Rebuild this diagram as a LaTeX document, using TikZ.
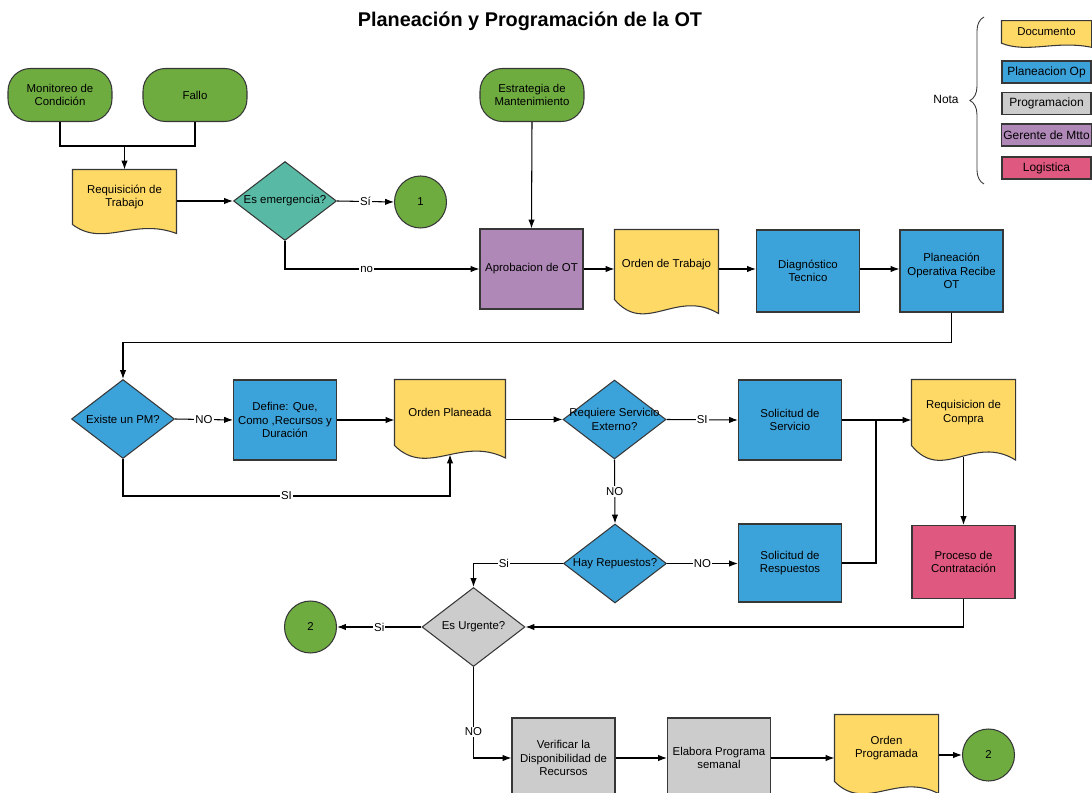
\documentclass[tikz,border=0pt]{standalone}
\usepackage{fontspec}
\setmainfont{Liberation Sans}
\usetikzlibrary{shapes.geometric,arrows.meta,calc,backgrounds,decorations.pathreplacing}

\definecolor{termgreen}{RGB}{110,172,64}
\definecolor{docyellow}{RGB}{255,217,102}
\definecolor{opblue}{RGB}{60,162,218}
\definecolor{proggray}{RGB}{204,204,204}
\definecolor{mgrpurple}{RGB}{176,136,184}
\definecolor{logpink}{RGB}{222,88,128}
\definecolor{emerteal}{RGB}{88,186,164}
\definecolor{edge}{RGB}{55,55,55}

\tikzset{
  base/.style={draw=edge, line width=0.6pt, font=\fontsize{6.5}{7.6}\selectfont, align=center, inner sep=1pt},
  term/.style={base, fill=termgreen, rounded corners=0.45cm, minimum width=2.08cm, minimum height=1.06cm},
  proc/.style={base, rectangle, minimum width=2.06cm, minimum height=1.62cm},
  doc/.style={base, draw=none, minimum width=2.06cm},
  dec/.style={base, diamond, aspect=1.3, minimum width=2.06cm, minimum height=1.58cm, inner sep=0pt},
  conn/.style={base, circle, fill=termgreen, minimum size=1.04cm},
  lbl/.style={font=\fontsize{6.5}{7.6}\selectfont, fill=white, inner sep=0.6pt},
  wire/.style={draw=black, line width=0.6pt},
  arr/.style={wire, -{Latex[length=5pt,width=3.6pt]}},
  docfill/.style={draw=edge, line width=0.6pt, fill=docyellow},
  legbox/.style={base, minimum width=1.78cm, minimum height=0.44cm, font=\fontsize{6.8}{8}\selectfont},
}

% document outline: node, width (px), wave depth (px)
\newcommand{\docwave}[3]{%
  \filldraw[docfill] (#1.south west) -- (#1.north west) -- (#1.north east) -- ($(#1.south east)+(0,#3)$)
    .. controls ($(#1.south west)+(0.6*#2,-0.8*#3)$) and ($(#1.south west)+(0.3*#2,2.6*#3)$) .. (#1.south west) -- cycle;}

\begin{document}
\begin{tikzpicture}[x=0.02cm, y=-0.02cm]
  \useasboundingbox (0,0) rectangle (1092,793);

  \node[font=\fontsize{11.3}{13.5}\selectfont\bfseries] (title) at (530,21) {Planeación y Programación de la OT};

  % legend
  \node[legbox, doc, minimum width=1.78cm, minimum height=0.43cm] (legdoc) at (1046.5,32) {Documento};
  \node[legbox, fill=opblue] (legop) at (1046.5,72) {Planeacion Op};
  \node[legbox, fill=proggray] (legprog) at (1046.5,103.5) {Programacion};
  \node[legbox, fill=mgrpurple] (legmgr) at (1046.5,135) {Gerente de Mtto};
  \node[legbox, fill=logpink] (leglog) at (1046.5,168) {Logistica};
  \node[font=\fontsize{6.8}{8}\selectfont] (nota) at (946,99) {Nota};
  \draw[edge, line width=0.5pt, decorate, decoration={brace, amplitude=8pt}] (984,184) -- (984,17);

  % row 1
  \node[term] (mon) at (60,95) {Monitoreo de\\Condición};
  \node[term] (fallo) at (195,95) {Fallo};
  \node[term] (est) at (532,95) {Estrategia de\\Mantenimiento};
  \node[doc, minimum height=1.08cm] (req) at (124.5,197) {Requisición de\\Trabajo};
  \node[dec, fill=emerteal] (emer) at (285,201) {Es emergencia?};
  \node[conn] (c1) at (420.5,202) {1};

  % row 2
  \node[proc, fill=mgrpurple, minimum height=1.6cm] (apr) at (531.5,269) {Aprobacion de OT};
  \node[doc, minimum height=1.38cm] (ot) at (666.5,264.5) {Orden de Trabajo};
  \node[proc, fill=opblue, minimum height=1.64cm] (diag) at (808,271) {Diagnóstico\\Tecnico};
  \node[proc, fill=opblue, minimum height=1.64cm] (plan) at (951.5,271) {Planeación\\Operativa Recibe\\OT};

  % row 3
  \node[dec, fill=opblue] (exist) at (123,419) {Existe un PM?};
  \node[proc, fill=opblue, minimum height=1.6cm] (define) at (285,420) {Define: Que,\\Como ,Recursos y\\Duración};
  \node[doc, minimum width=2.2cm, minimum height=1.3cm] (op) at (450,412.5) {Orden Planeada};
  \node[dec, fill=opblue, inner xsep=-7.5pt] (reqs) at (614.5,419.5) {Requiere Servicio\\Externo?};
  \node[proc, fill=opblue, minimum height=1.6cm] (solserv) at (790,420) {Solicitud de\\Servicio};
  \node[doc, minimum height=1.3cm] (rcomp) at (963.5,412.5) {Requisicion de\\Compra};

  % row 4
  \node[dec, fill=opblue] (hay) at (615,563.5) {Hay Repuestos?};
  \node[proc, fill=opblue, minimum height=1.56cm] (solresp) at (790,563) {Solicitud de\\Respuestos};
  \node[proc, fill=logpink, minimum height=1.46cm] (contr) at (963.5,562) {Proceso de\\Contratación};

  % row 5
  \node[dec, fill=proggray] (urg) at (473.5,627) {Es Urgente?};
  \node[conn] (c2) at (310.5,627) {2};
  \node[proc, fill=proggray, minimum height=1.6cm] (verif) at (563.5,758) {Verificar la\\Disponibilidad de\\Recursos};
  \node[proc, fill=proggray, minimum height=1.6cm] (elab) at (719,758) {Elabora Programa\\semanal};
  \node[doc, minimum height=1.32cm] (oprog) at (886.5,748) {Orden\\Programada};
  \node[conn] (c2b) at (988.5,755) {2};

  \begin{scope}[on background layer]
    \docwave{legdoc}{89}{4}
    \docwave{req}{103}{9}
    \docwave{ot}{103}{14}
    \docwave{op}{110}{12.5}
    \docwave{rcomp}{103}{14.5}
    \docwave{oprog}{103}{12}
  \end{scope}

  % connectors
  \draw[wire] (mon.south) -- ++(0,24) -| (fallo.south);
  \coordinate (jm) at (124.5,146);
  \draw[arr] (jm) -- (req.north);
  \draw[arr] (req.east |- emer) -- (emer.west);
  \draw[arr] (emer.east) -- node[lbl]{Sí} (c1.west);
  \draw[arr] (emer.south) |- node[lbl, pos=0.71]{no} (apr.west);
  \draw[arr] (est.south) -- (apr.north);
  \draw[arr] (apr.east) -- (apr.east -| ot.west);
  \draw[arr] (ot.east |- apr) -- (apr -| diag.west);
  \draw[arr] (diag.east |- apr) -- (apr -| plan.west);
  \draw[arr] (plan.south) -- ++(0,30) -| (exist.north);
  \draw[arr] (exist.east) -- node[lbl]{NO} (define.west);
  \draw[arr] (define.east) -- (define.east -| op.west);
  \draw[arr] (exist.south) -- ++(0,37) -| node[lbl, pos=0.25]{SI} ($(op.south)+(0,9)$);
  \draw[arr] (op.east |- reqs) -- (reqs.west);
  \draw[arr] (reqs.east) -- node[lbl]{SI} (solserv.west);
  \coordinate (jr) at (876,420);
  \draw[arr] (solserv.east) -- (solserv.east -| rcomp.west);
  \draw[wire] (solresp.east) -| (jr);
  \draw[arr] (reqs.south) -- node[lbl]{NO} (hay.north);
  \draw[arr] (hay.east) -- node[lbl]{NO} (hay.east -| solresp.west);
  \draw[arr] ($(rcomp.south)+(0,11)$) -- (contr.north);
  \draw[arr] (contr.south) |- (urg.east);
  \draw[arr] (hay.west) -| node[lbl, pos=0.33]{Si} (urg.north);
  \draw[arr] (urg.west) -- node[lbl]{Si} (c2.east);
  \draw[arr] (urg.south) |- node[lbl, pos=0.355]{NO} (verif.west);
  \draw[arr] (verif.east) -- (elab.west);
  \draw[arr] (elab.east) -- (elab.east -| oprog.west);
  \draw[arr] (c2b.west -| oprog.east) -- (c2b.west);
\end{tikzpicture}
\end{document}
